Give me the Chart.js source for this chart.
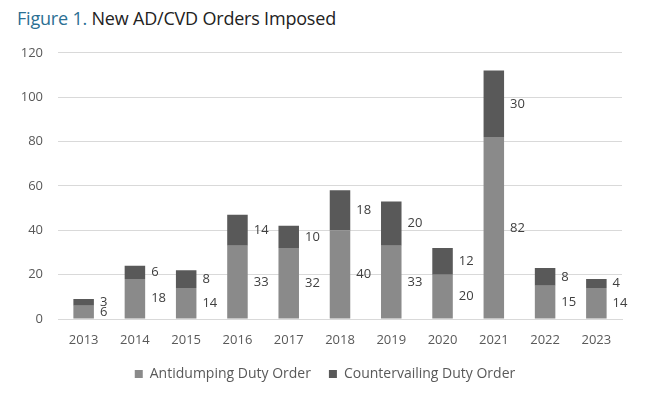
<!DOCTYPE html>
<html>
<head>
<meta charset="utf-8">
<script src="https://cdn.jsdelivr.net/npm/chart.js@4"></script>
<style>
  body { margin: 0; background: #fff; }
  #title { position: absolute; left: 17px; top: 6px; font: 18px "Open Sans", sans-serif; color: #222; letter-spacing: -0.2px; }
  #title span { color: #2b6f93; }
  #wrap { position: absolute; left: 0; top: 30px; width: 650px; height: 365px; }
</style>
</head>
<body>
<div id="title"><span>Figure 1.</span> New AD/CVD Orders Imposed</div>
<div id="wrap"><canvas id="chart"></canvas></div>
<script>
const years = ['2013', '2014', '2015', '2016', '2017', '2018', '2019', '2020', '2021', '2022', '2023'];
const antidumping = [6, 18, 14, 33, 32, 40, 33, 20, 82, 15, 14];
const countervailing = [3, 6, 8, 14, 10, 18, 20, 12, 30, 8, 4];
const yTicks = [0, 20, 40, 60, 80, 100, 120];

// Put the value to the right of each bar segment
const sideLabels = {
    id: 'sideLabels',
    afterDatasetsDraw(chart) {
        const ctx = chart.ctx;
        ctx.save();
        ctx.font = '13px "Open Sans", sans-serif';
        ctx.fillStyle = '#404040';
        ctx.textAlign = 'left';
        ctx.textBaseline = 'middle';
        chart.data.datasets.forEach((ds, i) => {
            chart.getDatasetMeta(i).data.forEach((bar, j) => {
                const mid = (bar.y + bar.base) / 2;
                ctx.fillText(ds.data[j], bar.x + bar.width / 2 + 6, mid);
            });
        });
        ctx.restore();
    }
};

const font = { size: 13, family: '"Open Sans", sans-serif' };

new Chart(document.getElementById('chart'), {
    type: 'bar',
    data: {
        labels: years,
        datasets: [{
            label: 'Antidumping Duty Order',
            data: antidumping,
            backgroundColor: '#8a8a8a',
            barPercentage: 0.8,
            categoryPercentage: 0.5
        }, {
            label: 'Countervailing Duty Order',
            data: countervailing,
            backgroundColor: '#595959',
            barPercentage: 0.8,
            categoryPercentage: 0.5
        }]
    },
    options: {
        responsive: true,
        maintainAspectRatio: false,
        animation: false,
        layout: { padding: { left: 0, right: 0, top: 15, bottom: 4 } },
        scales: {
            x: {
                stacked: true,
                afterFit(scale) { scale.height = 30; },
                grid: { display: false, drawTicks: false },
                border: { color: '#d9d9d9' },
                ticks: { color: '#595959', font: font, padding: 13 }
            },
            y: {
                stacked: true,
                min: 0,
                max: 120,
                afterFit(scale) { scale.width = 58; },
                afterBuildTicks(scale) { scale.ticks = yTicks.map(v => ({ value: v })); },
                grid: { color: '#d9d9d9', drawTicks: false },
                border: { display: false },
                ticks: { color: '#595959', font: font, padding: 15 }
            },
            // empty right margin so the legend centres on the whole figure
            yRight: {
                position: 'right',
                afterFit(scale) { scale.width = 28; },
                grid: { display: false, drawTicks: false },
                border: { display: false },
                ticks: { display: false }
            }
        },
        plugins: {
            legend: {
                position: 'bottom',
                labels: {
                    color: '#595959',
                    font: { size: 14, family: '"Open Sans", sans-serif' },
                    boxWidth: 8,
                    boxHeight: 8,
                    padding: 18
                }
            },
            tooltip: { enabled: false }
        }
    },
    plugins: [sideLabels]
});
</script>
</body>
</html>
